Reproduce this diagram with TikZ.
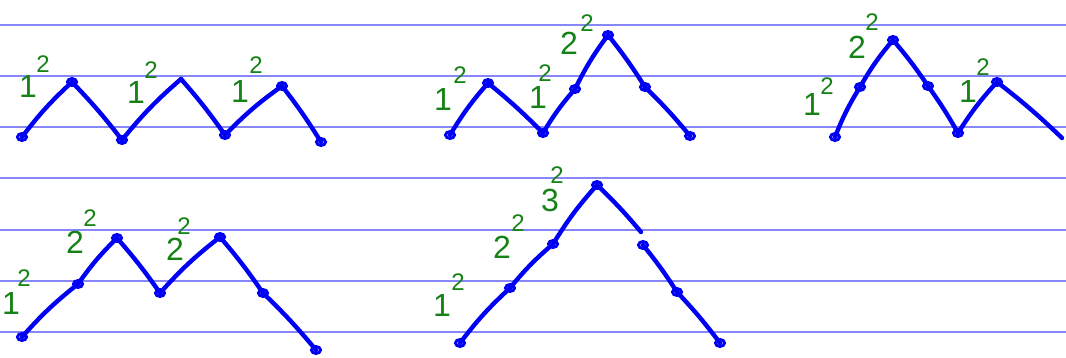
\documentclass[tikz,border=0pt]{standalone}
\usepackage{fontspec}
\setmainfont{Liberation Sans}
\definecolor{rule}{RGB}{135,135,250}
\definecolor{ink}{RGB}{0,0,245}
\definecolor{pen}{RGB}{20,130,20}
\tikzset{
  ruleline/.style={draw=rule, line width=1.2pt},
  stroke/.style={draw=ink, line width=3.3pt, line cap=round, line join=round},
  up/.style={bend left=5},
  down/.style={bend left=3},
  dot/.style={draw=ink, line width=2.2pt},
  base/.style={text=pen, font=\fontsize{24}{24}\selectfont, inner sep=0pt},
  sup/.style={text=pen, font=\fontsize{18}{18}\selectfont, inner sep=0pt},
}
\begin{document}
\begin{tikzpicture}[x=0.75pt,y=-0.75pt]
\useasboundingbox (0,0) rectangle (1066,357);
% ruled lines
\foreach \yy in {25,76,127,178,230,281,332}
  \draw[ruleline] (0,\yy) -- (1066,\yy);

% ---------- panel 1 ----------
\coordinate (a1) at (22,137);
\coordinate (a2) at (72,82);
\coordinate (a3) at (122,140);
\coordinate (a4) at (181,79);
\coordinate (a5) at (225,135);
\coordinate (a6) at (282,86);
\coordinate (a7) at (321,142);
\draw[stroke] (a1) to[up] (a2);
\draw[stroke] (a2) to[down] (a3);
\draw[stroke] (a3) to[up] (a4);
\draw[stroke] (a4) to[down] (a5);
\draw[stroke] (a5) to[up] (a6);
\draw[stroke] (a6) to[down] (a7);
\foreach \p in {a1,a2,a3,a5,a6,a7}
  \draw[dot] (\p) ellipse [x radius=3.4pt, y radius=2.6pt];
\node[base] (t1) at (28,86) {1};
\node[sup]  (s1) at (43,64) {2};
\node[base] (t2) at (136,92) {1};
\node[sup]  (s2) at (151,70) {2};
\node[base] (t3) at (240,91) {1};
\node[sup]  (s3) at (256,65) {2};

% ---------- panel 2 ----------
\coordinate (b1) at (450,135);
\coordinate (b2) at (488,83);
\coordinate (b3) at (543,133);
\coordinate (b4) at (575,89);
\coordinate (b5) at (608,35);
\coordinate (b6) at (645,87);
\coordinate (b7) at (690,136);
\draw[stroke] (b1) to[up] (b2);
\draw[stroke] (b2) to[down] (b3);
\draw[stroke] (b3) to[up] (b4);
\draw[stroke] (b4) to[up] (b5);
\draw[stroke] (b5) to[down] (b6);
\draw[stroke] (b6) to[down] (b7);
\foreach \p in {b1,b2,b3,b4,b5,b6,b7}
  \draw[dot] (\p) ellipse [x radius=3.4pt, y radius=2.6pt];
\node[base] (u1) at (443,99) {1};
\node[sup]  (v1) at (460,75) {2};
\node[base] (u2) at (538,97) {1};
\node[sup]  (v2) at (545,73) {2};
\node[base] (u3) at (569,43) {2};
\node[sup]  (v3) at (587,23) {2};

% ---------- panel 3 ----------
\coordinate (c1) at (835,137);
\coordinate (c2) at (860,87);
\coordinate (c3) at (893,40);
\coordinate (c4) at (928,86);
\coordinate (c5) at (958,133);
\coordinate (c6) at (997,82);
\coordinate (c7) at (1062,138);
\draw[stroke] (c1) to[up] (c2);
\draw[stroke] (c2) to[up] (c3);
\draw[stroke] (c3) to[down] (c4);
\draw[stroke] (c4) to[down] (c5);
\draw[stroke] (c5) to[up] (c6);
\draw[stroke] (c6) to[down] (c7);
\foreach \p in {c1,c2,c3,c4,c5,c6}
  \draw[dot] (\p) ellipse [x radius=3.4pt, y radius=2.6pt];
\node[base] (w1) at (812,104) {1};
\node[sup]  (x1) at (827,86) {2};
\node[base] (w2) at (857,47) {2};
\node[sup]  (x2) at (872,22) {2};
\node[base] (w3) at (968,91) {1};
\node[sup]  (x3) at (983,67) {2};

% ---------- panel 4 ----------
\coordinate (d1) at (22,337);
\coordinate (d2) at (78,284);
\coordinate (d3) at (117,238);
\coordinate (d4) at (160,293);
\coordinate (d5) at (220,237);
\coordinate (d6) at (263,293);
\coordinate (d7) at (316,350);
\draw[stroke] (d1) to[up] (d2);
\draw[stroke] (d2) to[up] (d3);
\draw[stroke] (d3) to[down] (d4);
\draw[stroke] (d4) to[up] (d5);
\draw[stroke] (d5) to[down] (d6);
\draw[stroke] (d6) to[down] (d7);
\foreach \p in {d1,d2,d3,d4,d5,d6,d7}
  \draw[dot] (\p) ellipse [x radius=3.4pt, y radius=2.6pt];
\node[base] (y1) at (11,303) {1};
\node[sup]  (z1) at (24,278) {2};
\node[base] (y2) at (75,242) {2};
\node[sup]  (z2) at (90,218) {2};
\node[base] (y3) at (175,249) {2};
\node[sup]  (z3) at (184,226) {2};

% ---------- panel 5 ----------
\coordinate (e1) at (460,343);
\coordinate (e2) at (510,288);
\coordinate (e3) at (553,244);
\coordinate (e4) at (597,185);
\coordinate (e5) at (641,232);
\coordinate (e6) at (643,245);
\coordinate (e7) at (677,292);
\coordinate (e8) at (720,343);
\draw[stroke] (e1) to[up] (e2);
\draw[stroke] (e2) to[up] (e3);
\draw[stroke] (e3) to[up] (e4);
\draw[stroke] (e4) to[down] (e5);
\draw[stroke] (e6) to[down] (e7);
\draw[stroke] (e7) to[down] (e8);
\foreach \p in {e1,e2,e3,e4,e6,e7,e8}
  \draw[dot] (\p) ellipse [x radius=3.4pt, y radius=2.6pt];
\node[base] (f1) at (442,305) {1};
\node[sup]  (g1) at (458,282) {2};
\node[base] (f2) at (502,247) {2};
\node[sup]  (g2) at (518,223) {2};
\node[base] (f3) at (550,200) {3};
\node[sup]  (g3) at (557,175) {2};
\end{tikzpicture}
\end{document}
